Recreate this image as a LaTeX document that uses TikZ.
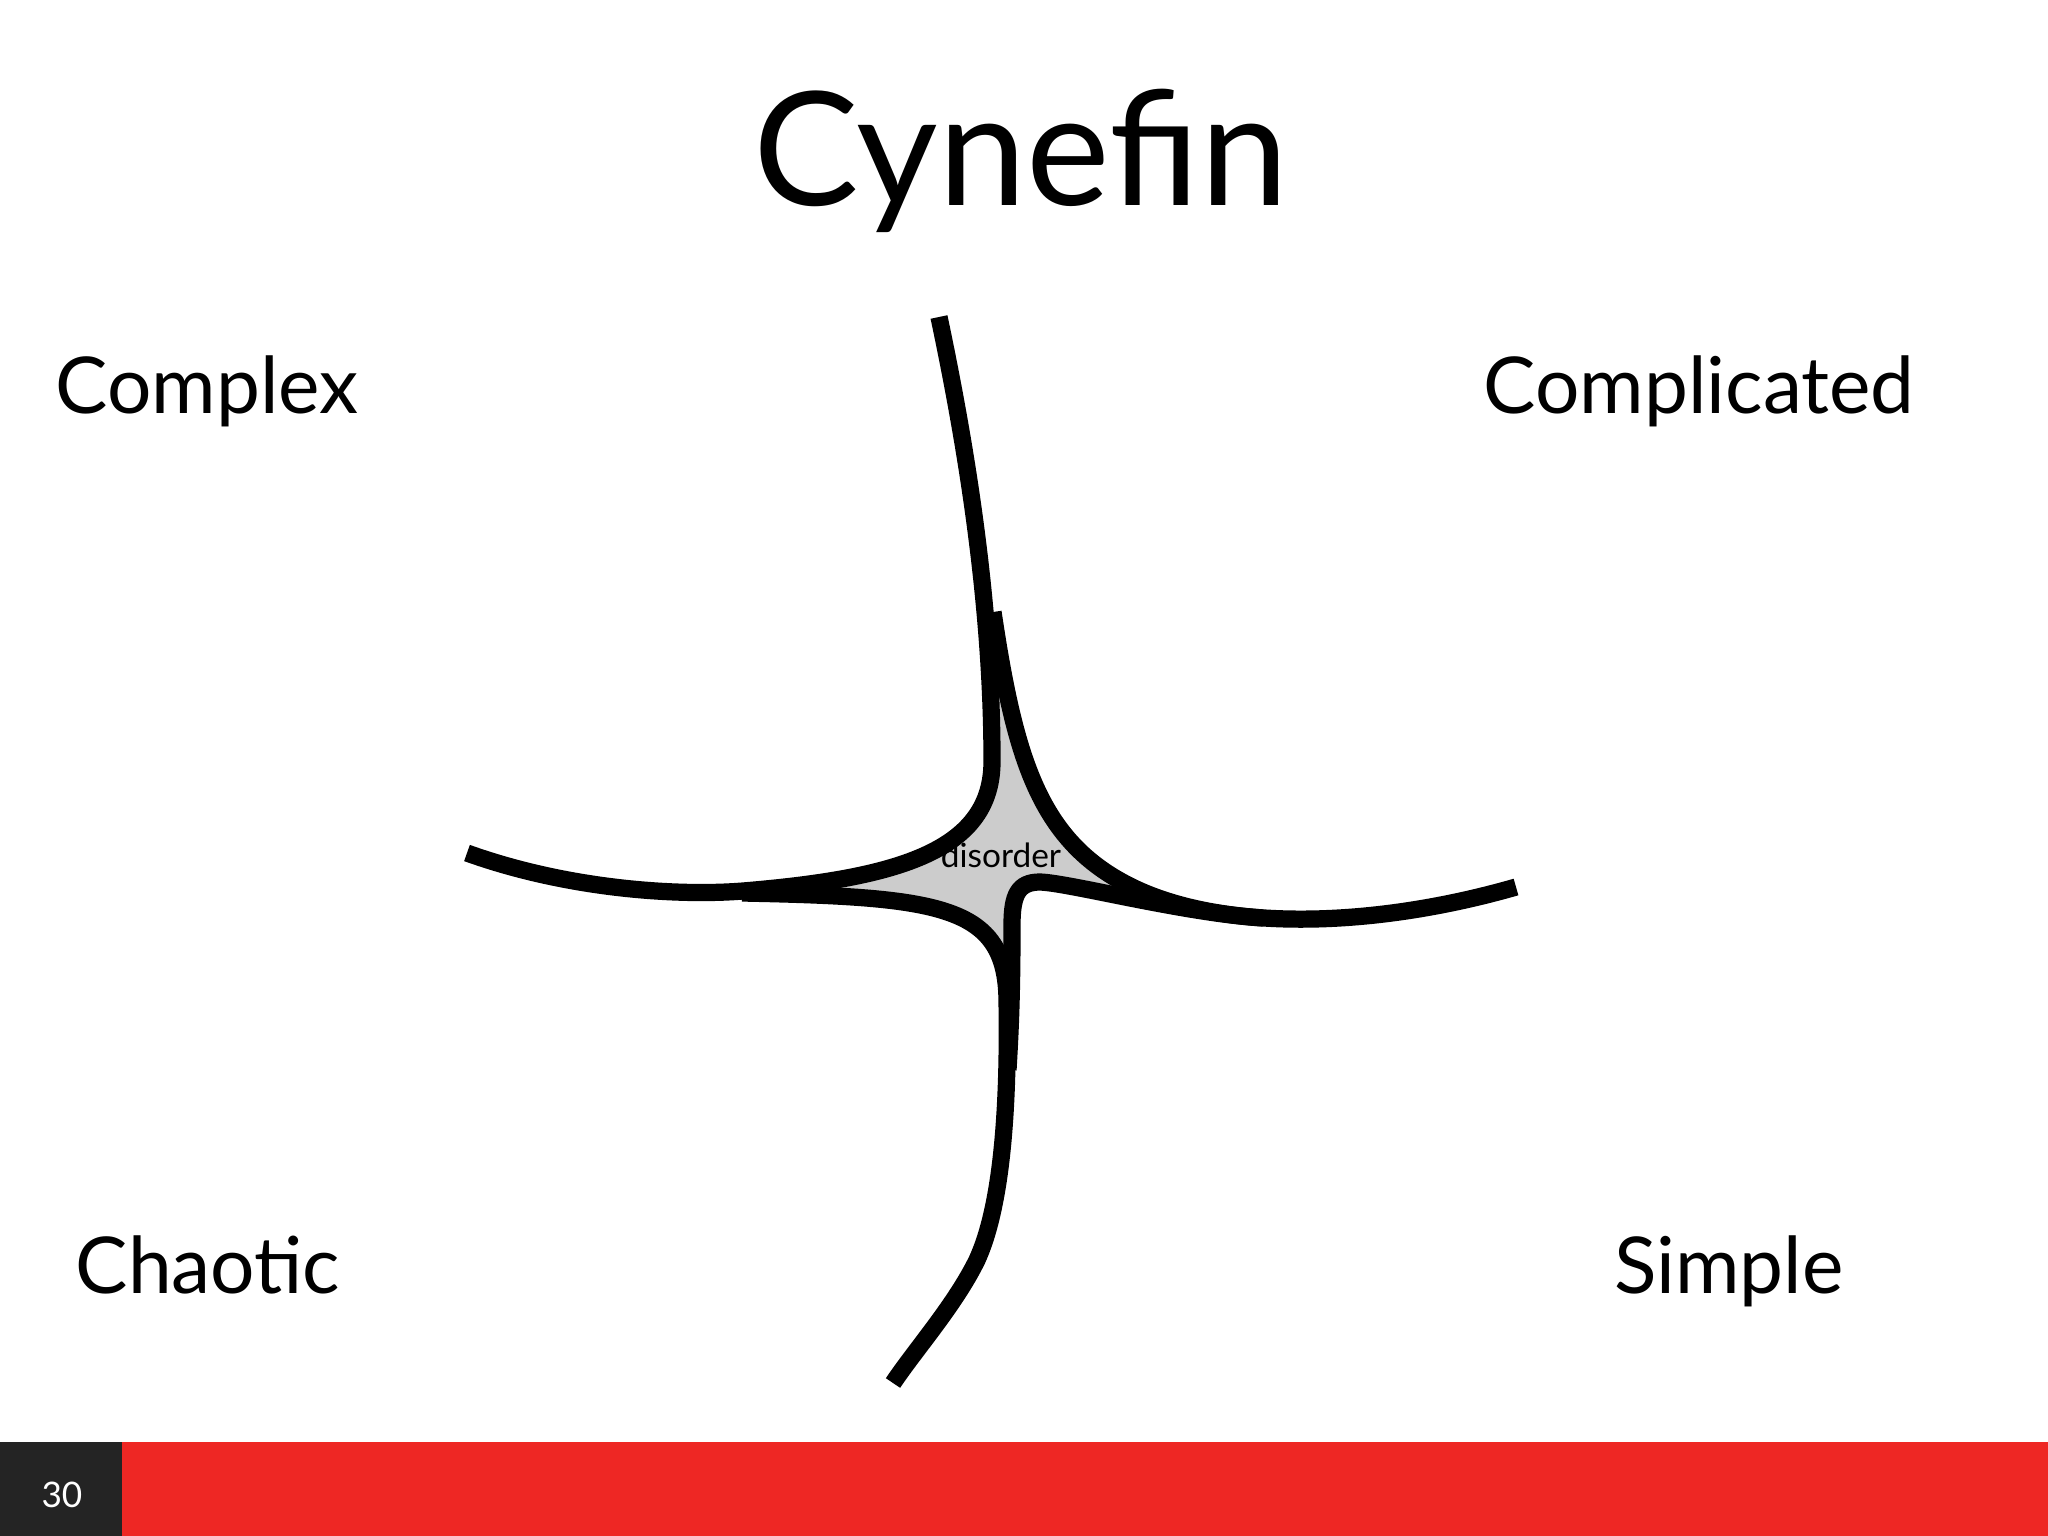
\documentclass[tikz,border=0pt]{standalone}
\usepackage{fontspec}
\setmainfont{Lato}
\definecolor{barred}{HTML}{EE2724}
\definecolor{bardark}{HTML}{242424}
\definecolor{disordergray}{HTML}{CCCCCC}
\tikzset{
  border line/.style={line width=4.9pt, black},
  domain label/.style={anchor=base, font=\fontsize{22.3}{26}\selectfont},
}
\begin{document}
\begin{tikzpicture}[x=0.01cm, y=-0.01cm]
  \useasboundingbox (0,0) rectangle (2048,1536);
  % the title
  \node (title) [anchor=base, font=\fontsize{45}{50}\selectfont] at (1021,205) {Cynefin};
  % the domains
  \node (complex) [domain label] at (207,413) {Complex};
  \node (complicated) [domain label] at (1699,413) {Complicated};
  \node (chaotic) [domain label] at (208,1293) {Chaotic};
  \node (simple) [domain label] at (1729,1293) {Simple};
  % the joints
  \coordinate (top end) at (939,317);
  \coordinate (left end) at (467,853);
  \coordinate (right end) at (1516,887);
  \coordinate (bottom end) at (893,1383);
  \coordinate (top split) at (993,612);
  \coordinate (left split) at (742,893);
  \coordinate (right split) at (1263,918);
  \coordinate (top bend) at (992,760);
  \coordinate (left bend) at (743,891);
  \coordinate (right bend) at (1130,886);
  \coordinate (bottom bend) at (1007,1000);
  \coordinate (low knee) at (977,1260);
  \coordinate (inner corner) at (1040,882);
  % the disorder patch
  \fill[disordergray] (top split) .. controls (1015,760) and (1040,841) .. (right bend)
    -- (1120,897) -- (inner corner) .. controls (1018,882) and (1012,895) .. (1012,925)
    -- (1007,990) -- (bottom bend) .. controls (1006,905) and (940,897) .. (left split)
    -- (left bend) .. controls (900,878) and (993,850) .. (top bend)
    -- (987,640) -- cycle;
  % the borders
  \draw[border line] (top end) .. controls (965,440) and (992,600) .. (top bend)
    .. controls (993,850) and (900,878) .. (left bend)
    .. controls (680,896) and (570,890) .. (left end);
  \draw[border line] (top split) .. controls (1015,760) and (1040,841) .. (right bend)
    .. controls (1220,931) and (1370,929) .. (right end);
  \draw[border line] (left split) .. controls (940,897) and (1006,905) .. (bottom bend)
    .. controls (1009,1120) and (1000,1210) .. (low knee)
    .. controls (955,1305) and (915,1350) .. (bottom end);
  \draw[border line] (right split) .. controls (1183,913) and (1070,883) .. (inner corner)
    .. controls (1018,882) and (1012,895) .. (1012,925)
    .. controls (1012,1000) and (1010,1035) .. (1008,1070);
  \node (disorder) [anchor=base, font=\fontsize{9.5}{11}\selectfont] at (1001,867) {disorder};
  % the footer
  \fill[barred] (0,1442) rectangle (2048,1536);
  \fill[bardark] (0,1442) rectangle (122,1536);
  \node (page) [white, font=\fontsize{10}{12}\selectfont] at (62,1495) {30};
\end{tikzpicture}
\end{document}
